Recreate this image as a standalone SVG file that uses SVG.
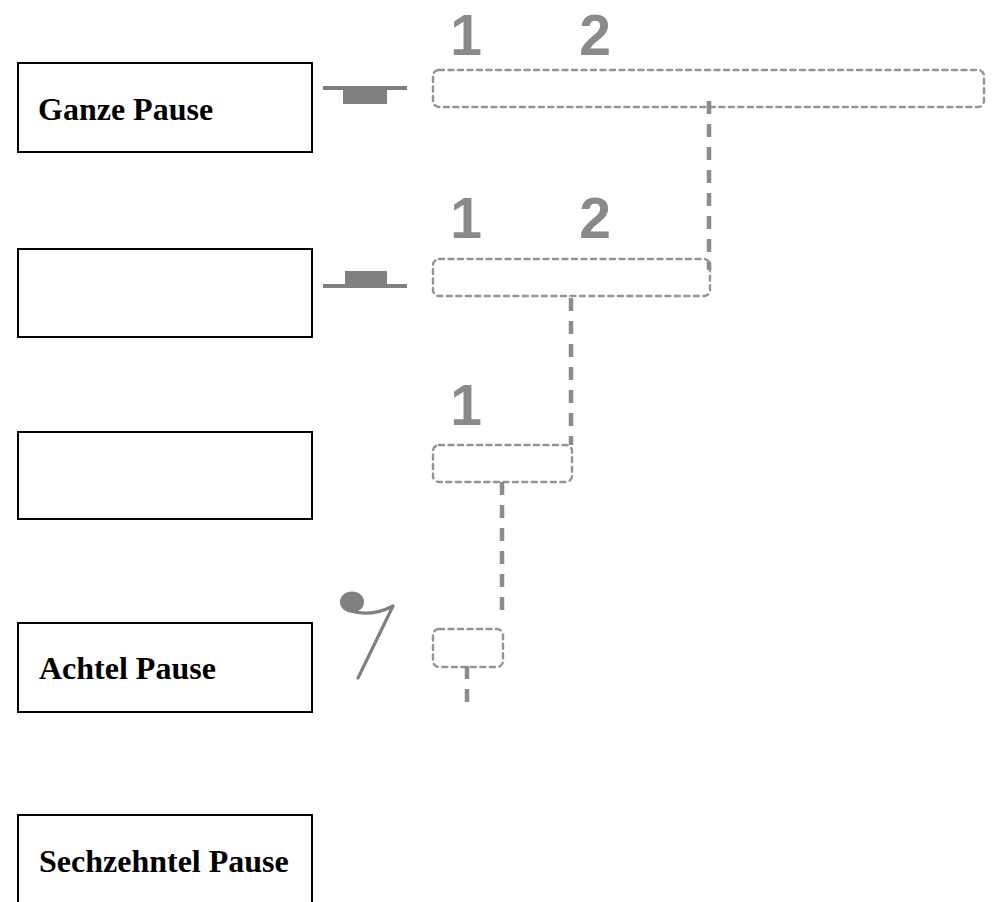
<svg xmlns="http://www.w3.org/2000/svg" width="997" height="902" viewBox="0 0 997 902">
<style>
.box{fill:#fff;stroke:#000;stroke-width:2}
.lbl{font-family:"Liberation Serif","Times New Roman",serif;font-weight:bold;font-size:32px;fill:#000}
.dbox{fill:none;stroke:#959595;stroke-width:2.4;stroke-dasharray:5 4.5;stroke-linecap:round}
.conn{fill:none;stroke:#8c8c8c;stroke-width:4.5;stroke-dasharray:13 10}
.num{font-family:"Liberation Sans",Arial,sans-serif;font-weight:bold;font-size:57px;fill:#8a8a8a;text-anchor:middle}
.rest{fill:#808080}
</style>
<rect width="997" height="902" fill="#fff"/>
<g id="node-ganze">
<rect class="box" x="18" y="63" width="294" height="89"/>
<text class="lbl" x="38" y="120">Ganze Pause</text>
</g>
<g id="node-halbe">
<rect class="box" x="18" y="249" width="294" height="88"/>
</g>
<g id="node-viertel">
<rect class="box" x="18" y="432" width="294" height="87"/>
</g>
<g id="node-achtel">
<rect class="box" x="18" y="623" width="294" height="89"/>
<text class="lbl" x="39" y="679">Achtel Pause</text>
</g>
<g id="node-sechzehntel">
<rect class="box" x="18" y="815" width="294" height="100"/>
<text class="lbl" x="39" y="872">Sechzehntel Pause</text>
</g>
<g id="rest-whole">
<rect class="rest" x="323" y="86" width="84" height="4"/>
<rect class="rest" x="343" y="88" width="44" height="16"/>
</g>
<g id="rest-half">
<rect class="rest" x="323" y="284" width="84" height="4"/>
<rect class="rest" x="345" y="271" width="42" height="15"/>
</g>
<g id="rest-eighth">
<ellipse class="rest" cx="352" cy="602" rx="12" ry="10.5"/>
<path d="M348 610 Q370 618 393 606 L358 678" fill="none" stroke="#808080" stroke-width="3.2" stroke-linecap="round" stroke-linejoin="round"/>
</g>
<g id="beats">
<text class="num" x="466" y="55">1</text>
<text class="num" x="595" y="55">2</text>
<text class="num" x="466" y="238">1</text>
<text class="num" x="595" y="238">2</text>
<text class="num" x="466" y="425">1</text>
</g>
<g id="duration-boxes">
<rect class="dbox" x="433" y="70" width="551" height="37" rx="6"/>
<rect class="dbox" x="433" y="259" width="277" height="37" rx="6"/>
<rect class="dbox" x="433" y="445" width="139" height="37" rx="6"/>
<rect class="dbox" x="433" y="629" width="70" height="38" rx="6"/>
</g>
<g id="connectors">
<line class="conn" x1="709" y1="101" x2="709" y2="270"/>
<line class="conn" x1="571" y1="298" x2="571" y2="445"/>
<line class="conn" x1="502" y1="482" x2="502" y2="620"/>
<line class="conn" x1="467" y1="666" x2="467" y2="706"/>
</g>
</svg>
